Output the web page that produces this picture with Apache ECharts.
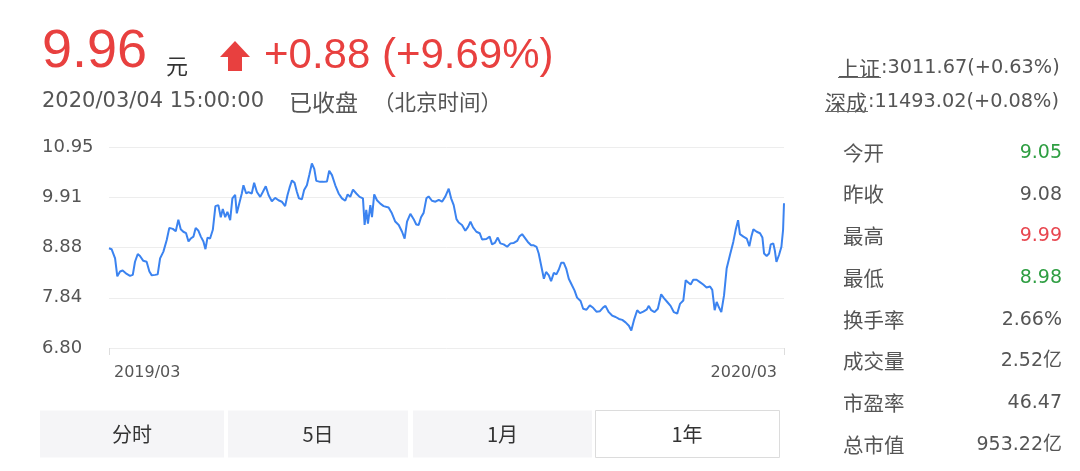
<!DOCTYPE html>
<html>
<head>
<meta charset="utf-8">
<script src="https://cdn.jsdelivr.net/npm/echarts@6/dist/echarts.min.js"></script>
<style>
html,body{margin:0;padding:0;background:#fff;}
#c{width:1080px;height:471px;}
</style>
</head>
<body>
<div id="c"></div>
<script>
// ---- data ----
const days = [
0.0,1.4,3.3,4.5,6.0,7.4,9.6,11.4,12.9,14.1,15.6,16.8,18.6,20.4,21.9,23.2,25.0,26.4,27.7,29.5,
31.3,32.7,34.6,36.2,37.6,38.9,40.3,41.8,43.1,44.3,45.8,47.0,48.5,49.8,51.2,52.3,53.4,54.8,56.3,57.7,
59.3,60.6,61.7,63.0,64.2,65.7,66.9,68.4,69.3,70.6,72.0,72.9,74.4,75.6,77.4,78.7,80.2,82.0,83.4,85.0,
86.5,88.3,90.1,91.9,93.7,95.5,96.8,97.9,99.2,100.6,101.9,103.0,104.6,105.8,107.3,108.6,110.0,111.3,112.4,114.5,
116.3,118.2,119.4,120.9,122.7,124.5,126.3,128.1,129.4,130.8,132.3,134.1,135.9,137.7,138.6,139.5,140.4,141.7,142.6,143.8,
145.3,147.1,148.9,151.6,153.4,155.2,157.1,158.9,160.3,
161.6,163.4,165.2,166.6,167.9,169.2,170.6,172.1,173.3,175.1,177.0,178.8,180.6,182.4,184.2,185.5,186.9,188.4,189.6,191.4,
193.2,194.7,196.0,197.4,199.2,201.0,202.3,204.6,206.4,207.7,209.2,210.8,212.2,214.0,215.9,217.7,219.5,221.3,222.5,224.0,
225.4,227.1,228.9,230.3,231.8,233.0,234.3,235.8,237.0,238.5,239.7,241.2,242.6,243.9,245.2,246.6,247.9,249.3,251.1,252.4,
253.8,255.7,257.1,258.9,260.7,262.5,264.3,266.2,268.0,269.2,271.0,272.8,274.7,276.5,278.3,280.1,281.9,283.2,284.6,286.4,
287.9,289.7,291.5,292.7,294.0,295.8,297.6,299.4,300.9,302.7,304.5,306.3,308.1,309.6,311.4,312.7,313.9,315.4,316.8,318.6,
320.4,322.2,324.0,325.9,327.1,328.4,329.5,330.7,332.0,333.5,334.9,336.7,338.5,339.8,341.1,342.1,344.0,345.8,347.2,348.3,
349.4,351.2,353.0,354.3,355.2,356.6,357.9,358.8,360.2,361.0,361.9,363.3,364.6,365.5,366.0
];
const prices = [
8.86,8.84,8.65,8.28,8.38,8.40,8.33,8.29,8.31,8.58,8.74,8.70,8.60,8.58,8.38,8.30,8.31,8.32,8.65,8.79,
9.03,9.28,9.26,9.21,9.45,9.25,9.20,9.17,9.00,9.06,9.10,9.28,9.22,9.10,9.00,8.84,9.08,9.06,9.24,9.73,
9.75,9.50,9.67,9.50,9.61,9.44,9.89,9.96,9.58,9.78,9.99,10.16,9.99,10.02,9.99,10.21,10.02,9.92,10.02,10.14,
9.96,9.83,9.90,9.85,9.82,9.73,9.96,10.11,10.26,10.21,10.02,9.89,9.87,10.06,10.16,10.37,10.61,10.50,10.25,10.23,
10.23,10.24,10.46,10.37,10.16,9.99,9.89,9.84,9.97,9.92,10.07,9.99,9.92,9.89,9.34,9.65,9.37,9.75,9.50,9.97,
9.85,9.78,9.73,9.70,9.58,9.41,9.34,9.20,9.06,
9.41,9.57,9.46,9.35,9.34,9.50,9.59,9.89,9.93,9.84,9.82,9.86,9.82,9.93,10.09,9.89,9.75,9.46,9.39,9.34,
9.22,9.30,9.41,9.29,9.20,9.17,9.04,9.05,9.10,8.94,8.97,9.08,8.96,8.94,8.89,8.96,8.97,9.01,9.10,9.15,
9.08,8.99,8.92,8.92,8.89,8.75,8.51,8.23,8.37,8.30,8.18,8.35,8.32,8.42,8.56,8.56,8.44,8.23,8.09,7.99,
7.84,7.77,7.61,7.59,7.68,7.63,7.55,7.56,7.64,7.67,7.54,7.47,7.44,7.40,7.38,7.33,7.26,7.16,7.37,7.58,
7.52,7.55,7.59,7.67,7.58,7.54,7.61,7.91,7.83,7.75,7.67,7.54,7.51,7.71,7.78,8.20,8.16,8.11,8.21,8.21,
8.16,8.11,8.05,8.07,8.00,7.58,7.75,7.64,7.54,7.89,8.44,8.72,8.99,9.24,9.44,9.15,9.10,9.06,8.90,9.10,
9.25,9.20,9.17,9.08,8.75,8.70,8.75,8.94,8.96,8.82,8.58,8.72,8.89,9.24,9.79
];
const yTicks = [6.80, 7.8375, 8.875, 9.9125, 10.95];
const yTickLabels = ['6.80', '7.84', '8.88', '9.91', '10.95'];
const xRange = [0, 366];
const xTickLabels = ['2019/03', '2020/03'];

const headPrice = '9.96';
const headUnit = '元';
const headChange = '+0.88 (+9.69%)';
const headTime = '2020/03/04 15:00:00';
const headStatus = '已收盘';
const headZone = '（北京时间）';
const indexNames = ['上证', '深成'];
const indexValues = [':3011.67(+0.63%)', ':11493.02(+0.08%)'];
const statLabels = ['今开', '昨收', '最高', '最低', '换手率', '成交量', '市盈率', '总市值'];
const statValues = ['9.05', '9.08', '9.99', '8.98', '2.66%', '2.52亿', '46.47', '953.22亿'];
const statColors = ['#2e9e42', '#555555', '#e8464f', '#2e9e42', '#555555', '#555555', '#555555', '#555555'];
const tabNames = ['分时', '5日', '1月', '1年'];

// ---- styles ----
const RED = '#e8403f';
const GRAY = '#555555';
const NUM = '"DejaVu Sans", "Noto Sans CJK SC", sans-serif';
const CJK = '"Noto Sans CJK SC", "DejaVu Sans", sans-serif';
const HEAD = '"Liberation Sans", Arial, sans-serif';

const G = [];
function txt(x, y, text, font, fill, align) {
  G.push({type:'text', x:x, y:y, silent:true, style:{text:text, font:font, fill:fill, align:align||'left', verticalAlign:'middle'}});
}
txt(42, 52, headPrice, '54px ' + HEAD, RED);
txt(166, 66, headUnit, '22px ' + CJK, '#333');
G.push({type:'polygon', silent:true, shape:{points:[[235,41],[250,57],[242,57],[242,71],[228,71],[228,57],[220,57]]}, style:{fill:RED}});
txt(264, 56, headChange, '42px ' + HEAD, RED);
txt(42, 102, headTime, '21px ' + NUM, GRAY);
txt(289, 102, headStatus, '23px ' + CJK, GRAY);
txt(373, 102, headZone, '21.5px ' + CJK, GRAY);

const idxX = [838, 825];
const idxY = [68, 102];
for (let i = 0; i < indexNames.length; i++) {
  txt(idxX[i], idxY[i], indexNames[i], '21px ' + CJK, GRAY);
  txt(idxX[i] + 43, idxY[i], indexValues[i], '19.3px ' + NUM, GRAY);
  G.push({type:'line', silent:true, shape:{x1:idxX[i], y1:idxY[i] + 9.5, x2:idxX[i] + 43, y2:idxY[i] + 9.5}, style:{stroke:'#666', lineWidth:1}});
}
for (let i = 0; i < statLabels.length; i++) {
  const y = 153 + i * 41.7;
  txt(843, y, statLabels[i], '20.5px ' + CJK, GRAY);
  txt(1062, y, statValues[i], '19px ' + NUM, statColors[i], 'right');
}
const tabX = [[40,224],[228,408],[413,592],[595,779]];
for (let i = 0; i < tabNames.length; i++) {
  const sel = i === tabNames.length - 1;
  G.push({type:'rect', silent:true, shape:{x:tabX[i][0] + (sel?0.5:0), y:410.5, width:tabX[i][1]-tabX[i][0], height:47}, style:{fill: sel ? '#ffffff' : '#f5f5f7', stroke: sel ? '#dcdcdc' : null, lineWidth:1}});
  txt((tabX[i][0] + tabX[i][1]) / 2, 434, tabNames[i], '20px ' + CJK, '#333', 'center');
}

const chart = echarts.init(document.getElementById('c'), null, {renderer:'canvas'});
chart.setOption({
  animation: false,
  backgroundColor: '#ffffff',
  grid: {left:109, right:296, top:147, bottom:123, containLabel:false},
  xAxis: {
    type: 'value',
    min: xRange[0], max: xRange[1], interval: xRange[1] - xRange[0],
    axisLine: {show:false},
    axisTick: {show:true, length:7, lineStyle:{color:'#dddddd', width:1}},
    splitLine: {show:false},
    axisLabel: {
      show: true, margin: 17, color: GRAY, fontSize: 16, fontFamily: NUM,
      alignMinLabel: 'left', alignMaxLabel: 'right',
      padding: [0, 7, 0, 5],
      formatter: function (v) { return v <= xRange[0] ? xTickLabels[0] : (v >= xRange[1] ? xTickLabels[1] : ''); }
    }
  },
  yAxis: {
    type: 'value',
    min: yTicks[0], max: yTicks[yTicks.length - 1], interval: yTicks[1] - yTicks[0],
    axisLine: {show:false}, axisTick: {show:false},
    splitLine: {show:true, lineStyle:{color:'#ededed', width:1}},
    axisLabel: {
      align: 'left', margin: 67, color: GRAY, fontSize: 18, fontFamily: NUM,
      formatter: function (v) {
        let best = 0;
        for (let i = 1; i < yTicks.length; i++) if (Math.abs(yTicks[i] - v) < Math.abs(yTicks[best] - v)) best = i;
        return yTickLabels[best];
      }
    }
  },
  series: [{
    type: 'line',
    data: days.map(function (d, i) { return [d, prices[i]]; }),
    showSymbol: false,
    symbol: 'none',
    lineStyle: {color:'#3b83f0', width:2},
    itemStyle: {color:'#3b83f0'}
  }],
  graphic: G
});
</script>
</body>
</html>
